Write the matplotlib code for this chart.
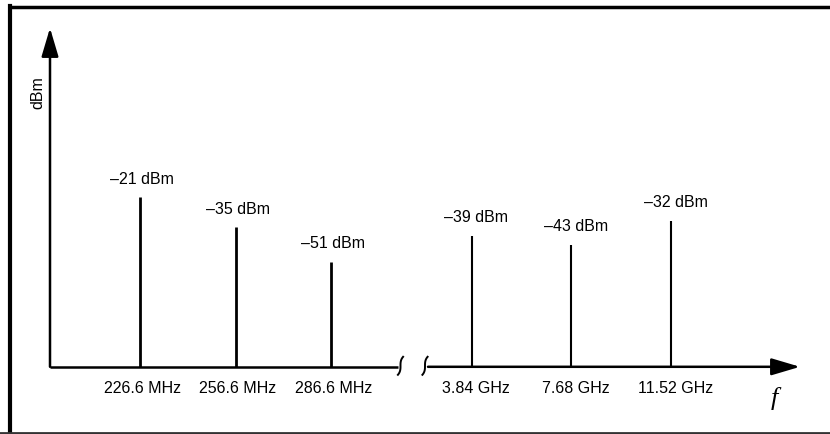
"""Spectrum sketch: fundamental + spurs (MHz) and harmonics (GHz) on a broken axis."""

import matplotlib
matplotlib.use("Agg")
import matplotlib.pyplot as plt
import numpy as np
from matplotlib.lines import Line2D
from matplotlib.transforms import Affine2D

plt.rcParams["font.family"] = ["Liberation Sans", "DejaVu Sans"]

# Low band (MHz) and high band (GHz) spectral lines
mhz_freqs = [226.6, 256.6, 286.6]
mhz_levels = [-21, -35, -51]
ghz_freqs = [3.84, 7.68, 11.52]
ghz_levels = [-39, -43, -32]
mhz_labels = [f"{f:g} MHz" for f in mhz_freqs]
ghz_labels = [f"{f:g} GHz" for f in ghz_freqs]

FLOOR = -100  # dBm at the frequency axis
YTOP = 58

W, H = 830, 434
fig = plt.figure(figsize=(W / 100, H / 100), dpi=100)

bottom = (H - 366.8) / H
top = (H - 28) / H
ax1 = fig.add_axes([50 / W, bottom, (398 - 50) / W, top - bottom])
ax2 = fig.add_axes([428 / W, bottom, (800 - 428) / W, top - bottom])
ax1.set_xlim(198.3, 307.6)
ax2.set_xlim(2.16, 16.47)

for ax in (ax1, ax2):
    ax.set_ylim(FLOOR, YTOP)
    ax.set_axis_off()

arrow_kw = dict(arrowstyle="-|>,head_length=1.75,head_width=0.52",
                mutation_scale=10, lw=1.8, color="black",
                shrinkA=0, shrinkB=0)

# y axis with arrow
ax1.annotate("", xy=(0, 1), xytext=(0, 0), xycoords="axes fraction",
             arrowprops=arrow_kw, annotation_clip=False)
# frequency axis: plain segment on the left, arrow on the right
ax1.plot([0, 1], [0, 0], transform=ax1.transAxes, color="black", lw=1.8,
         solid_capstyle="butt", clip_on=False)
ax2.annotate("", xy=(1, 0), xytext=(0, 0), xycoords="axes fraction",
             arrowprops=arrow_kw, annotation_clip=False)

# spectral lines
ax1.vlines(mhz_freqs, FLOOR, mhz_levels, color="black", lw=2.0)
ax2.vlines(ghz_freqs, FLOOR, ghz_levels, color="black", lw=1.5)

for ax, freqs, levels, labels, dx in ((ax1, mhz_freqs, mhz_levels, mhz_labels, 1.5),
                                      (ax2, ghz_freqs, ghz_levels, ghz_labels, 3)):
    for f, v, lab in zip(freqs, levels, labels):
        ax.annotate(f"\u2013{abs(v)} dBm", xy=(f, v), xytext=(dx, 13),
                    textcoords="offset points", ha="center", va="center",
                    fontsize=11.5, annotation_clip=False)
        ax.annotate(lab, xy=(f, FLOOR), xytext=(dx, -15.5),
                    textcoords="offset points", ha="center", va="center",
                    fontsize=11.5, annotation_clip=False)

ax1.text(-0.036, 0.81, "dBm", transform=ax1.transAxes, rotation=90,
         ha="center", va="center", fontsize=11.5)
ax2.text(0.93, -0.095, "f", transform=ax2.transAxes, ha="center",
         va="center", fontsize=19, family="Liberation Serif", style="italic")

# axis break squiggles (drawn in pixels around the axis ends)
t = np.linspace(-1, 1, 40)
sq_x = 2.6 * t ** 3
sq_y = 9 * t
for ax, xa in ((ax1, 1.0), (ax2, 0.0)):
    x0, y0 = ax.transAxes.transform((xa, 0))
    shift = 2.5 if xa == 1.0 else -3
    tr = Affine2D().translate(x0 + shift, y0 + 1)
    ax.plot(sq_x, sq_y, transform=tr, color="black", lw=1.4, clip_on=False)

# scanned frame (left, top and bottom edges)
fig.add_artist(Line2D([9.5 / W, 9.5 / W], [0, 1 - 6 / H],
                      transform=fig.transFigure, color="black", lw=3))
fig.add_artist(Line2D([9.5 / W, 1], [1 - 6.5 / H, 1 - 6.5 / H],
                      transform=fig.transFigure, color="black", lw=2.5))
fig.add_artist(Line2D([0, 1], [1.5 / H, 1.5 / H],
                      transform=fig.transFigure, color="#333333", lw=2))

fig.savefig("out.png", dpi=100)
